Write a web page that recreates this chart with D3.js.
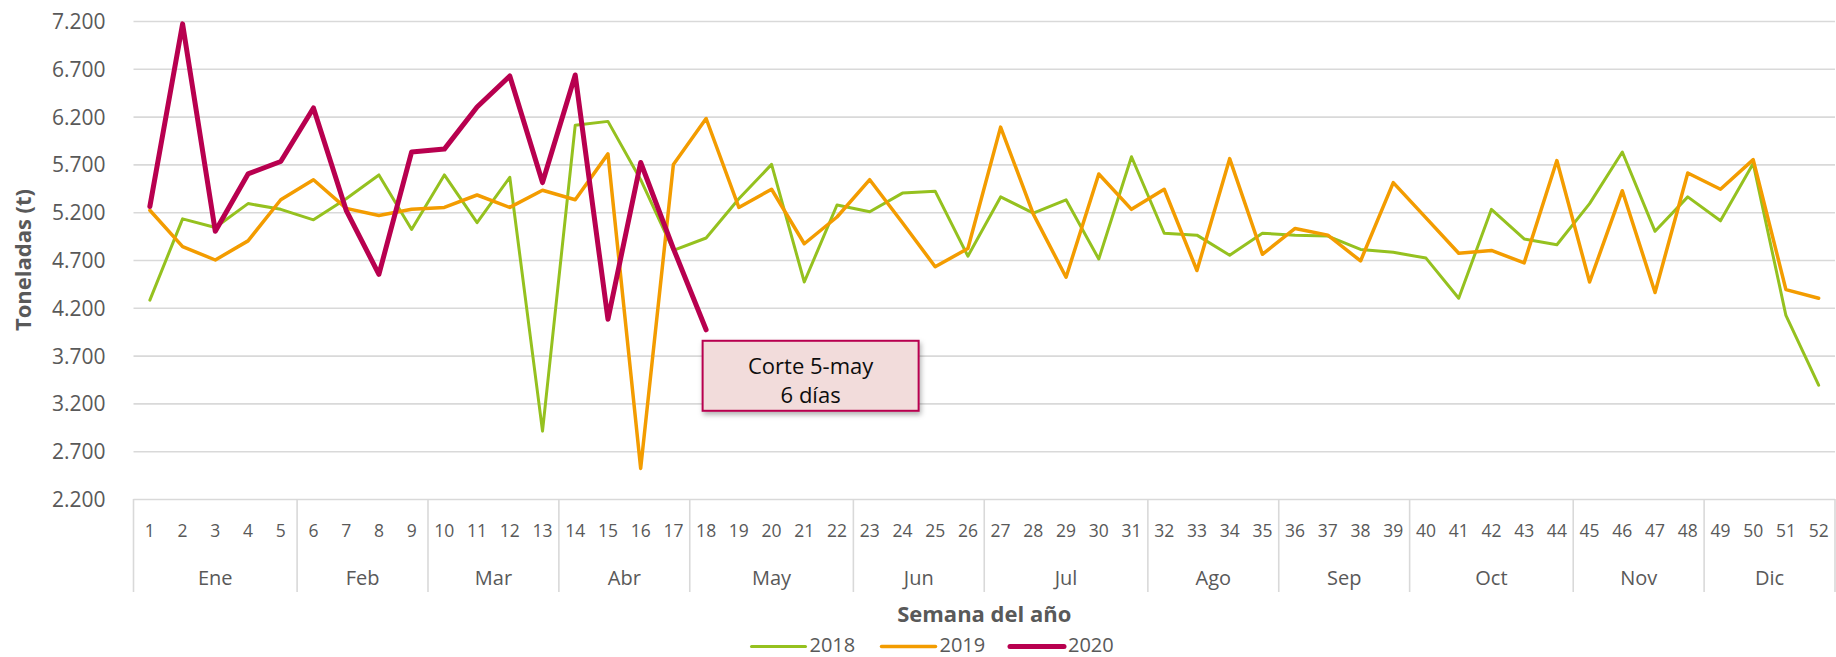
<!DOCTYPE html>
<html>
<head>
<meta charset="utf-8">
<script src="https://cdn.jsdelivr.net/npm/d3@7"></script>
<style>
  html, body { margin: 0; padding: 0; background: #fff; }
  svg { display: block; font-family: "Open Sans", "Noto Sans", sans-serif; }
</style>
</head>
<body>
<svg id="chart" width="1836" height="657"></svg>
<script>
// ---------- data ----------
const weeks = d3.range(1, 53);
const months = ["Ene","Feb","Mar","Abr","May","Jun","Jul","Ago","Sep","Oct","Nov","Dic"];
const monthWeeks = [5,4,4,4,5,4,5,4,4,5,4,4];
const yTicks = [2200,2700,3200,3700,4200,4700,5200,5700,6200,6700,7200];
const seriesNames = ["2018","2019","2020"];
const y2018 = [4280,5130,5040,5290,5230,5120,5340,5590,5020,5590,
               5090,5565,2910,6110,6150,5540,4800,4930,5340,5700,
               4470,5275,5205,5400,5420,4740,5360,5190,5330,4710,
               5780,4980,4960,4750,4980,4960,4950,4810,4780,4720,
               4300,5230,4920,4860,5290,5830,5000,5360,5110,5710,
               4120,3390];
const y2019 = [5220,4840,4700,4900,5330,5540,5240,5165,5230,5250,
               5380,5250,5430,5330,5810,2520,5700,6180,5250,5440,
               4870,5150,5540,5090,4630,4820,6090,5180,4520,5600,
               5230,5440,4590,5760,4760,5030,4960,4690,5510,5140,
               4770,4800,4670,5740,4470,5425,4360,5610,5440,5750,
               4390,4300];
const y2020 = [5260,7170,5000,5600,5730,6290,5220,4550,5830,5860,
               6300,6625,5510,6635,4080,5720,4820,3970];
const annotationLines = ["Corte 5-may", "6 días"];

// ---------- styles ----------
const colors = {"2018": "#95c11f", "2019": "#f39c00", "2020": "#b8004f"};
const widths = {"2018": 3, "2019": 3.5, "2020": 5};
const textGray = "#595959";
const gridGray = "#d9d9d9";

const svg = d3.select("#chart");
const pLeft = 133.5, pRight = 1835, pTop = 21, pBottom = 499;

const x = d3.scaleBand().domain(weeks).range([pLeft, pRight]).padding(0);
const cx = w => x(w) + x.bandwidth() / 2;
const y = d3.scaleLinear().domain([2200, 7200]).range([pBottom, pTop]);

const loc = d3.formatLocale({decimal: ",", thousands: ".", grouping: [3], currency: ["", "€"]});
const fmt = loc.format(",d");

// gridlines + y labels
const yAxis = d3.axisLeft(y).tickValues(yTicks).tickFormat(fmt).tickSize(-(pRight - pLeft)).tickPadding(28);
const gy = svg.append("g").attr("transform", `translate(${pLeft},0)`).call(yAxis);
gy.select(".domain").remove();
gy.selectAll(".tick line").attr("stroke", gridGray).attr("stroke-width", 1.6);
gy.selectAll(".tick text").attr("fill", textGray).style("font-size", "21px")
  .attr("font-family", "Open Sans").attr("dy", "0.36em");

// category axis: week labels
const xAxis = d3.axisBottom(x).tickSize(0).tickPadding(0);
const gx = svg.append("g").attr("transform", `translate(0,${pBottom})`).call(xAxis);
gx.select(".domain").remove();
gx.selectAll(".tick text").attr("fill", textGray).style("font-size", "17.5px")
  .attr("font-family", "Open Sans").attr("y", 38).attr("dy", 0);

// month groups
let start = 1;
const monthData = months.map((m, i) => {
  const s = start, e = start + monthWeeks[i] - 1;
  start = e + 1;
  return {name: m, s, e};
});
const sepTop = pBottom, sepBottom = 592;
svg.append("g").selectAll("line").data(monthData).join("line")
  .attr("x1", d => x(d.s)).attr("x2", d => x(d.s))
  .attr("y1", sepTop).attr("y2", sepBottom)
  .attr("stroke", gridGray).attr("stroke-width", 1.6);
svg.append("line").attr("x1", pRight).attr("x2", pRight).attr("y1", sepTop).attr("y2", sepBottom)
  .attr("stroke", gridGray).attr("stroke-width", 1.6);
svg.append("g").selectAll("text").data(monthData).join("text")
  .attr("x", d => (x(d.s) + x(d.e) + x.bandwidth()) / 2)
  .attr("y", 584.5)
  .attr("text-anchor", "middle")
  .attr("fill", textGray).style("font-size", "20px")
  .text(d => d.name);

// axis titles
svg.append("text").attr("x", (pLeft + pRight) / 2).attr("y", 621.5)
  .attr("text-anchor", "middle").attr("fill", textGray)
  .style("font-size", "22px").style("font-weight", "bold")
  .text("Semana del año");
svg.append("text").attr("transform", `translate(31,${(pTop + pBottom) / 2}) rotate(-90)`)
  .attr("text-anchor", "middle").attr("fill", textGray)
  .style("font-size", "22px").style("font-weight", "bold")
  .text("Toneladas (t)");

// lines
const line = d3.line().x((d, i) => cx(weeks[i])).y(d => y(d));
const seriesData = {"2018": y2018, "2019": y2019, "2020": y2020};
seriesNames.forEach(n => {
  svg.append("path").datum(seriesData[n])
    .attr("d", line)
    .attr("fill", "none")
    .attr("stroke", colors[n])
    .attr("stroke-width", widths[n])
    .attr("stroke-linejoin", "round")
    .attr("stroke-linecap", "round");
});

// annotation
const defs = svg.append("defs");
const f = defs.append("filter").attr("id", "shadow").attr("x", "-10%").attr("y", "-10%").attr("width", "130%").attr("height", "140%");
f.append("feDropShadow").attr("dx", 1.5).attr("dy", 3).attr("stdDeviation", 2.5)
  .attr("flood-color", "#000").attr("flood-opacity", 0.3);
const lastW = weeks[y2020.length - 1];
const bx = cx(lastW) - 3.5, by = y(y2020[y2020.length - 1]) + 11, bw = 216, bh = 70;
svg.append("rect").attr("x", bx).attr("y", by).attr("width", bw).attr("height", bh)
  .attr("fill", "#f2dcdb").attr("stroke", "#b8004f").attr("stroke-width", 2)
  .attr("filter", "url(#shadow)");
svg.append("g").selectAll("text").data(annotationLines).join("text")
  .attr("x", bx + bw / 2).attr("y", (d, i) => by + 33.5 + i * 28.5)
  .attr("text-anchor", "middle").attr("fill", "#0d0d0d")
  .style("font-size", "22px").text(d => d);

// legend
const legendX = [751.5, 881.5, 1010];
const lg = svg.append("g");
seriesNames.forEach((n, i) => {
  lg.append("line").attr("x1", legendX[i]).attr("x2", legendX[i] + 54)
    .attr("y1", 646.5).attr("y2", 646.5)
    .attr("stroke", colors[n]).attr("stroke-width", widths[n])
    .attr("stroke-linecap", "round");
  lg.append("text").attr("x", legendX[i] + 58).attr("y", 652)
    .attr("fill", textGray).style("font-size", "20px").text(n);
});
</script>
</body>
</html>
